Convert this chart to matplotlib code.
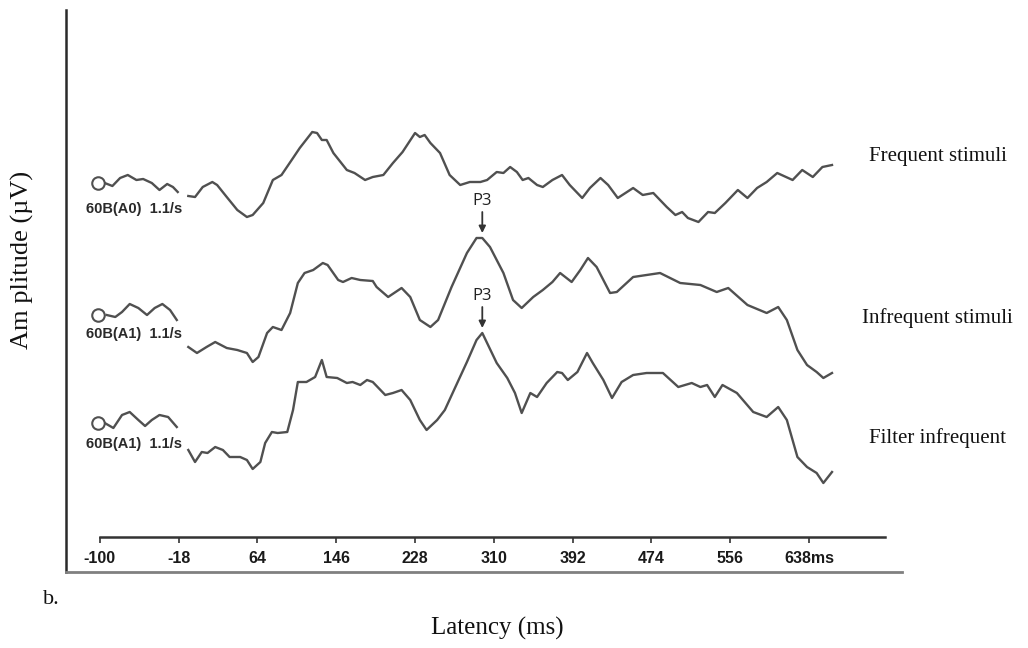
import matplotlib.pyplot as plt
import numpy as np

# ERP sweeps: latency (ms) and amplitude (uV)
# each sweep has a short pre-stimulus piece and the main sweep
freq_pre_ms = [-95, -87, -79, -71, -62, -55, -46, -38, -30, -24, -19]
freq_pre_amp = [0.2, -0.1, 0.7, 1.0, 0.5, 0.6, 0.2, -0.5, 0.1, -0.2, -0.7]
freq_ms = [-8, -1, 7, 17, 22, 32, 43, 53, 59, 70, 80, 89, 101, 108, 121, 126, 131, 136, 143, 157,
           165, 176, 184, 195, 205, 215, 228, 233, 238, 244, 254, 264, 275, 285, 296, 303, 313, 320, 327, 334,
           340, 346, 355, 361, 371, 381, 389, 402, 410, 421, 429, 439, 455, 465, 476, 490, 499, 506, 512, 523,
           533, 540, 551, 564, 574, 584, 594, 605, 621, 631, 642, 652, 662]
freq_amp = [-1.1, -1.2, -0.2, 0.3, 0.0, -1.2, -2.5, -3.2, -3.0, -1.8,
            0.5, 1.0, 2.7, 3.7, 5.3, 5.2, 4.5, 4.5, 3.2, 1.5,
            1.2, 0.5, 0.8, 1.0, 2.2, 3.3, 5.2, 4.8, 5.0, 4.2,
            3.2, 1.0, 0.0, 0.3, 0.3, 0.5, 1.3, 1.2, 1.8, 1.3,
            0.5, 0.7, 0.0, -0.2, 0.5, 1.0, 0.0, -1.3, -0.3, 0.7,
            0.0, -1.3, -0.3, -1.0, -0.8, -2.2, -3.0, -2.7, -3.3, -3.7,
            -2.7, -2.8, -1.8, -0.5, -1.3, -0.3, 0.3, 1.2, 0.5, 1.5,
            0.8, 1.8, 2.0]

infreq_pre_ms = [-93, -84, -77, -69, -60, -51, -43, -35, -27, -20]
infreq_pre_amp = [-0.5, -0.7, -0.2, 0.6, 0.2, -0.5, 0.2, 0.6, 0.0, -1.0]
infreq_ms = [-8, 1, 11, 20, 32, 43, 53, 59, 65, 74, 80, 89, 98, 106, 113, 122, 132, 137, 148, 153, 162, 171, 184,
             188, 200, 214, 223, 233, 244, 252, 266, 282, 292, 298, 306, 320, 330, 339, 351, 361, 371, 379, 391,
             400, 408, 417, 431, 438, 455, 469,
             483, 504, 525, 542, 554, 574, 594, 606, 615, 626, 636, 646, 653, 662]
infreq_amp = [-3.7, -4.3, -3.7, -3.2, -3.8, -4.0, -4.3, -5.2, -4.7, -2.3, -1.7, -2.0, -0.3, 2.7, 3.7, 4.0, 4.7,
              4.5, 3.0, 2.8, 3.2, 3.0, 2.9,
              2.3, 1.3, 2.2, 1.3, -1.0, -1.7, -1.0, 2.3, 5.7, 7.2, 7.2, 6.3, 3.7, 1.0, 0.2, 1.3, 2.0, 2.8, 3.7,
              2.8, 4.0, 5.2, 4.3, 1.7, 1.8, 3.3, 3.5,
              3.7, 2.7, 2.5, 1.8, 2.2, 0.5, -0.3, 0.3, -1.0, -4.0, -5.5, -6.2, -6.8, -6.3]

filt_pre_ms = [-95, -86, -77, -69, -60, -53, -46, -38, -29, -20]
filt_pre_amp = [-0.3, -0.8, 0.5, 0.8, 0.0, -0.6, 0.0, 0.5, 0.3, -0.7]
filt_ms = [-8, -1, 6, 12, 20, 28, 35, 46, 53, 59, 67, 72, 79, 85, 95, 101, 106, 115, 124, 131, 136, 147, 157,
           163, 171, 178, 184,
           189, 197, 205, 214, 223, 233, 240, 251, 259, 270, 282, 292, 298, 304, 313, 324, 332, 339, 348, 355,
           365, 376, 381, 387, 397, 407, 413, 424, 433, 443, 455, 469,
           486, 502, 516, 525, 532, 540, 548, 563, 580, 594, 606, 615, 626, 636, 646, 653, 662]
filt_amp = [-3.0, -4.2, -3.2, -3.3, -2.7, -3.0, -3.7, -3.7, -4.0, -4.9, -4.2, -2.3, -1.2, -1.3, -1.2, 1.0, 3.8,
            3.8, 4.3, 6.0, 4.3, 4.2, 3.7, 3.8, 3.5, 4.0, 3.8,
            3.3, 2.5, 2.7, 3.0, 2.0, 0.0, -1.0, 0.0, 1.0, 3.3, 5.8, 8.0, 8.7, 7.5, 5.7, 4.2, 2.7, 0.7, 2.7, 2.3,
            3.7, 4.8, 4.7, 4.0, 4.8, 6.7, 5.7, 4.0, 2.2, 3.8, 4.5, 4.7,
            4.7, 3.3, 3.7, 3.3, 3.5, 2.3, 3.5, 2.7, 0.8, 0.3, 1.3, 0.0, -3.7, -4.7, -5.3, -6.3, -5.2]

trace_names = ['Frequent stimuli', 'Infrequent stimuli', 'Filter infrequent']
channel_labels = ['60B(A0)  1.1/s', '60B(A1)  1.1/s', '60B(A1)  1.1/s']
p3_ms = 298

tick_ms = [-100, -18, 64, 146, 228, 310, 392, 474, 556, 638]
tick_labels = ['-100', '-18', '64', '146', '228', '310', '392', '474', '556', '638ms']

serif = ['Liberation Serif', 'DejaVu Serif']
sans = ['Liberation Sans Narrow', 'Liberation Sans', 'DejaVu Sans']
line_col = '#505050'

W, H = 1028, 648
fig = plt.figure(figsize=(W / 100, H / 100), dpi=100)

# outer frame (left + bottom border of the recording)
frame = fig.add_axes([66 / W, (H - 572) / H, (902 - 66) / W, (572 - 10) / H])
frame.patch.set_visible(False)
for s in ['top', 'right']:
    frame.spines[s].set_visible(False)
frame.spines['left'].set_color('#2a2a2a')
frame.spines['left'].set_linewidth(1.8)
frame.spines['bottom'].set_color('#808080')
frame.spines['bottom'].set_linewidth(2)
frame.set_xticks([])
frame.set_yticks([])

# trace axes, its bottom spine is the latency scale
ax = fig.add_axes([0, (H - 537) / H, 1, 537 / H])
ax.patch.set_visible(False)
ax.set_xlim(-204, 866)
ax.set_ylim(-35.2, 18.5)
for s in ['top', 'right', 'left']:
    ax.spines[s].set_visible(False)
ax.spines['bottom'].set_bounds(-100, 717)
ax.spines['bottom'].set_color('#333333')
ax.spines['bottom'].set_linewidth(1.8)
ax.set_yticks([])
ax.set_xticks(tick_ms)
ax.set_xticklabels(tick_labels, fontweight='bold', fontsize=11.5, family=sans, color='#1a1a1a')
ax.tick_params(axis='x', direction='out', length=4, width=1.2, color='#333333', pad=6)

sweeps = [
    (freq_pre_ms, freq_pre_amp, freq_ms, freq_amp),
    (infreq_pre_ms, infreq_pre_amp, infreq_ms, infreq_amp),
    (filt_pre_ms, filt_pre_amp, filt_ms, filt_amp),
]
offsets = [0, -12.5, -23.5]
name_dy = [2.8, -0.8, -1.8]

for i, (pm, pa, m, a) in enumerate(sweeps):
    off = offsets[i]
    ax.plot(pm, np.array(pa) + off, color=line_col, lw=1.7, clip_on=False)
    ax.plot(m, np.array(a) + off, color=line_col, lw=1.7, clip_on=False)
    ax.plot(-102, pa[0] + off, marker='o', ms=9, mfc='white', mec=line_col, mew=1.5)
    ax.text(-114, off - 2.4, channel_labels[i], fontsize=10.5, fontweight='bold',
            family=sans, color='#2a2a2a', va='center', ha='left')
    ax.text(772, off + name_dy[i], trace_names[i], fontsize=15, family=serif,
            ha='center', va='center', color='#111111')
    if i > 0:
        peak = off + max(a)
        ax.annotate('', xy=(p3_ms, peak + 0.5), xytext=(p3_ms, peak + 2.6),
                    arrowprops=dict(arrowstyle='-|>', color='#333333', lw=1.3,
                                    mutation_scale=10, shrinkA=0, shrinkB=0))
        ax.text(p3_ms, peak + 3.7, 'P3', fontsize=12, family=['Open Sans', 'DejaVu Sans'],
                ha='center', va='center', color='#222222')

fig.text(22 / W, 1 - 260 / H, 'Am plitude (µV)', rotation=90, fontsize=19, family=serif,
         ha='center', va='center', color='#111111')
fig.text(497 / W, 1 - 628 / H, 'Latency (ms)', fontsize=18, family=serif,
         ha='center', va='center', color='#111111')
fig.text(51 / W, 1 - 600 / H, 'b.', fontsize=16, family=serif,
         ha='center', va='center', color='#111111')

fig.savefig('out.png', dpi=100)
